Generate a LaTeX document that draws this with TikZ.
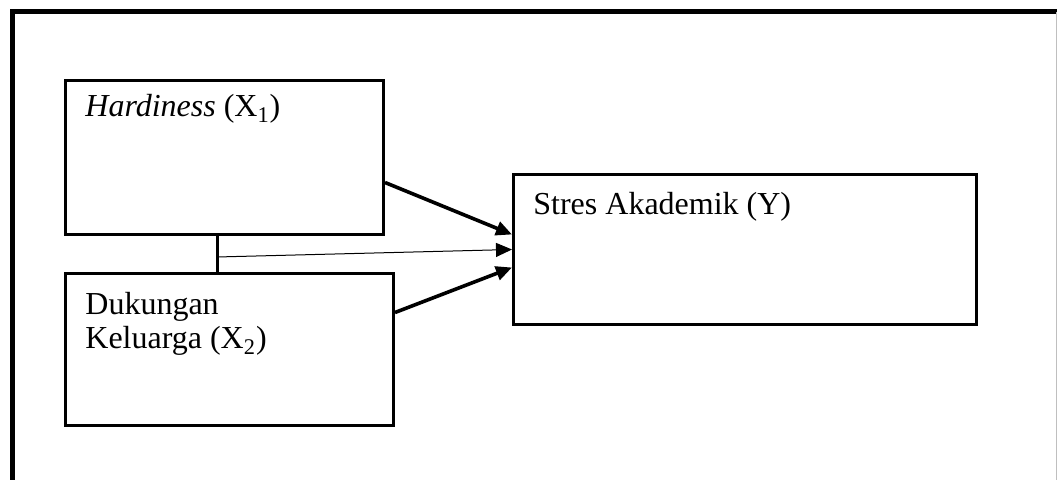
\documentclass[tikz,border=0pt]{standalone}
\usepackage{fontspec}
\setmainfont{Liberation Serif}
\usetikzlibrary{positioning, calc, arrows.meta}

\begin{document}
\begin{tikzpicture}[
    x=0.5pt, y=-0.5pt,
    box/.style={draw, rectangle, line width=1.5pt, inner sep=0pt},
    label/.style={inner sep=0pt, anchor=base west, align=left, font=\fontsize{16}{17}\selectfont},
    arrow/.style={-{Triangle[length=8pt, width=7pt]}, line width=1.8pt},
    thinarrow/.style={-{Triangle[length=8pt, width=7pt]}, line width=0.5pt}
  ]
    \useasboundingbox (0,0) rectangle (1057,480);
    % frame
    \draw[line width=2.5pt] (12,480) -- (12,12) -- (1057,12);
    \draw[gray!50, line width=0.6pt] (1056.5,12) -- (1056.5,480);

    \node[box, minimum width=159pt, minimum height=77pt, anchor=north west] (hardiness) at (64,79) {};
    \node[box, minimum width=164pt, minimum height=76pt, anchor=north west] (dukungan) [below=18pt of hardiness.south west, anchor=north west] {};
    \node[box, minimum width=231.5pt, minimum height=75pt, anchor=north west] (stres) at (512,173) {};

    \node[label] (hardinesstext) at ([xshift=10.5pt, yshift=-19pt]hardiness.north west) {\textit{Hardiness} (X\textsubscript{1})};
    \node[label] (dukungantext) at ([xshift=10.5pt, yshift=-38.5pt]dukungan.north west) {Dukungan\\Keluarga (X\textsubscript{2})};
    \node[label] (strestext) at ([xshift=10.5pt, yshift=-21pt]stres.north west) {Stres Akademik (Y)};

    \coordinate (joint) at (217,257);
    \draw[line width=1.5pt] (joint |- hardiness.south) -- (joint |- dukungan.north);

    \draw[arrow] ([yshift=-12.5pt]hardiness.east) -- ([yshift=7.5pt]stres.west);
    \draw[thinarrow] (joint) -- (stres.west);
    \draw[arrow] ([yshift=18.5pt]dukungan.east) -- ([yshift=-9pt]stres.west);
  \end{tikzpicture}
\end{document}
